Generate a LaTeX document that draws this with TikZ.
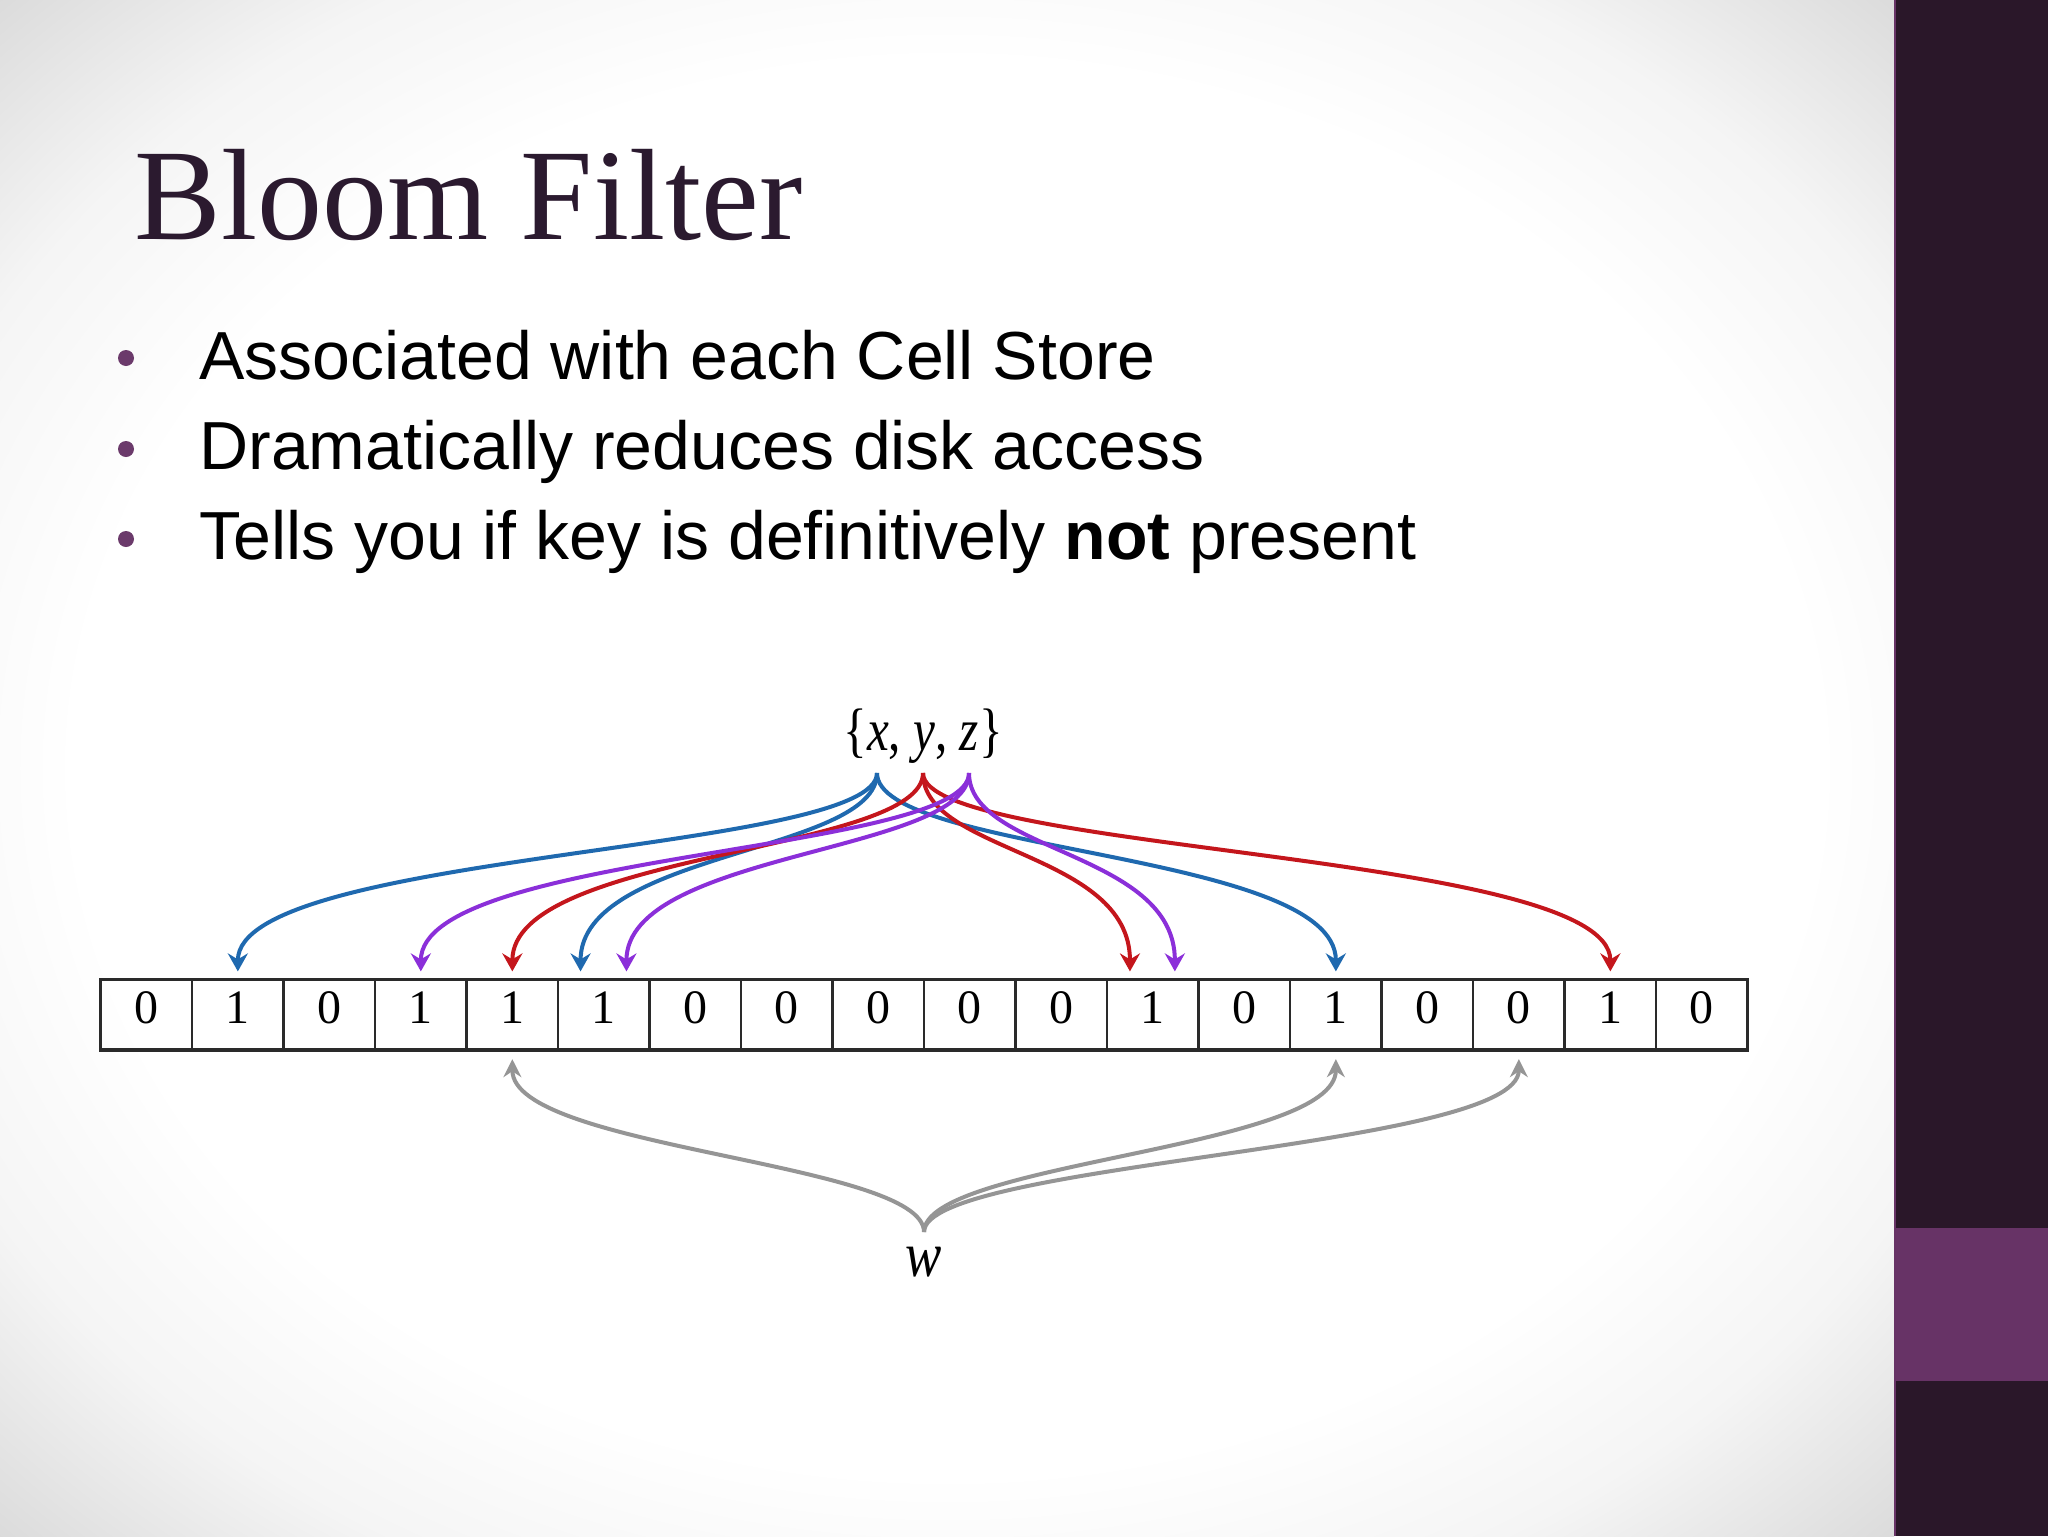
\documentclass[tikz,border=0pt]{standalone}
\usepackage{fontspec}
\newfontfamily\titlefont{Liberation Serif}
\newfontfamily\bodyfont{Liberation Sans}
\newfontfamily\diagfont{Liberation Serif}
\usetikzlibrary{arrows.meta}
\definecolor{titlecol}{HTML}{2B1A2F}
\definecolor{barcol}{HTML}{2A1729}
\definecolor{bandcol}{HTML}{673366}
\definecolor{bulletcol}{HTML}{6B3A6B}
\definecolor{xblue}{HTML}{1F69AF}
\definecolor{yred}{HTML}{C4161C}
\definecolor{zpurple}{HTML}{8B2FD9}
\definecolor{wgray}{HTML}{959595}
\definecolor{cellline}{HTML}{2A2A2A}
\pgfdeclareradialshading{slidebg}{\pgfpoint{0bp}{0bp}}{color(0bp)=(white); color(23bp)=(white); color(29bp)=(black!4); color(36bp)=(black!15); color(50bp)=(black!15)}
\tikzset{
  cell/.style={draw=cellline, line width=1.2pt, minimum width=45.75pt, minimum height=34.6pt,
    inner sep=0pt, font=\diagfont\fontsize{24}{24}\selectfont, text height=8.8pt, text depth=0pt},
  hasharr/.style={line width=2pt, -{Stealth[length=9pt,width=10pt,inset=3pt]}},
  xarr/.style={hasharr, draw=xblue},
  yarr/.style={hasharr, draw=yred},
  zarr/.style={hasharr, draw=zpurple},
  warr/.style={line width=2pt, draw=wgray, -{Stealth[length=9pt,width=9pt,inset=3pt]}},
  bulletline/.style={anchor=base west, inner sep=0pt, font=\bodyfont\fontsize{34}{40}\selectfont, text=black},
  bulletdot/.style={circle, fill=bulletcol, minimum size=8pt, inner sep=0pt}
}
\begin{document}
\begin{tikzpicture}[x=0.5pt,y=-0.5pt]
\useasboundingbox (0,0) rectangle (2048,1536);
% background
\shade[shading=slidebg] (0,0) rectangle (1894,1536);
\fill[barcol] (1894,0) rectangle (2048,1536);
\fill[bandcol] (1894,1228) rectangle (2048,1381);
\draw[bandcol, line width=1pt] (1895,0) -- (1895,1536);

% title and bullets
\node[anchor=base west, inner sep=0pt, text=titlecol, font=\titlefont\fontsize{65}{78}\selectfont] (title) at (134,239) {Bloom Filter};
\node[bulletdot] (d1) at (126,358) {};
\node[bulletline] (b1) at (199,379) {Associated with each Cell Store};
\node[bulletdot] (d2) at (126,449) {};
\node[bulletline] (b2) at (199,469) {Dramatically reduces disk access};
\node[bulletdot] (d3) at (126,539) {};
\node[bulletline] (b3) at (199,559) {Tells you if key is definitively \textbf{not} present};

% bit array
\foreach \v [count=\i from 0] in {0,1,0,1,1,1,0,0,0,0,0,1,0,1,0,0,1,0}
  \node[cell] (c\i) at ({100.6+91.5*(\i+0.5)},1014.2) {\v};
\draw[cellline, line width=1.6pt] (c0.south west) -- (c17.south east);

% set {x,y,z}
\node[inner sep=0pt, font=\diagfont\fontsize{30}{30}\selectfont] (set) at (923,736) {\scalebox{0.82}[1]{\{\textit{x}, \textit{y}, \textit{z}\}}};
\coordinate (ox) at (877,773);
\coordinate (oy) at (923,773);
\coordinate (oz) at (969,773);

% x (blue)
\draw[xarr] (ox) .. controls +(0,80) and +(0,-120) .. ([yshift=3.5pt]c1.north);
\draw[xarr] (ox) .. controls +(0,80) and +(0,-120) .. ([xshift=-11.65pt,yshift=3.5pt]c5.north);
\draw[xarr] (ox) .. controls +(0,80) and +(0,-120) .. ([yshift=3.5pt]c13.north);
% y (red)
\draw[yarr] (oy) .. controls +(0,80) and +(0,-120) .. ([yshift=3.5pt]c4.north);
\draw[yarr] (oy) .. controls +(0,80) and +(0,-120) .. ([xshift=-11.45pt,yshift=3.5pt]c11.north);
\draw[yarr] (oy) .. controls +(0,80) and +(0,-120) .. ([yshift=3.5pt]c16.north);
% z (purple)
\draw[zarr] (oz) .. controls +(0,80) and +(0,-120) .. ([yshift=3.5pt]c3.north);
\draw[zarr] (oz) .. controls +(0,80) and +(0,-120) .. ([xshift=11.3pt,yshift=3.5pt]c5.north);
\draw[zarr] (oz) .. controls +(0,80) and +(0,-120) .. ([xshift=11pt,yshift=3.5pt]c11.north);

% w
\node[inner sep=0pt, font=\diagfont\fontsize{32}{32}\selectfont] (w) at (924,1262) {\scalebox{0.85}[1]{\textit{w}}};
\coordinate (ow) at (924,1232);
\draw[warr] (ow) .. controls +(0,-70) and +(0,90) .. ([yshift=-4.6pt]c4.south);
\draw[warr] (ow) .. controls +(0,-70) and +(0,90) .. ([yshift=-4.6pt]c13.south);
\draw[warr] (ow) .. controls +(0,-70) and +(0,90) .. ([yshift=-4.6pt]c15.south);
\end{tikzpicture}
\end{document}
